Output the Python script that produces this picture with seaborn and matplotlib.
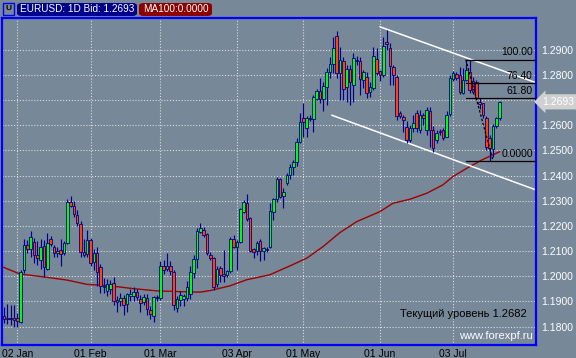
import numpy as np
import pandas as pd
import matplotlib
matplotlib.use("Agg")
import matplotlib.pyplot as plt
import seaborn as sns
from matplotlib.patches import Rectangle, FancyBboxPatch

# ---------------- data ----------------
opens = [1.1842, 1.1830, 1.1834, 1.1836, 1.1833, 1.1820, 1.2024, 1.2124, 1.2110, 1.2135,
         1.2085, 1.2065, 1.2120, 1.2028, 1.2147, 1.2115, 1.2093, 1.2105, 1.2091, 1.2133,
         1.2296, 1.2279, 1.2243, 1.2208, 1.2098, 1.2088, 1.2144, 1.2058, 1.2091, 1.2036,
         1.1962, 1.1942, 1.1950, 1.1975, 1.1907, 1.1903, 1.1913, 1.1889, 1.1920, 1.1920,
         1.1937, 1.1911, 1.1897, 1.1913, 1.1867, 1.1843, 1.1916, 1.1912, 1.2039, 1.2028,
         1.2039, 1.2017, 1.1874, 1.1907, 1.1910, 1.1913, 1.1930, 1.2012, 1.2068, 1.2175,
         1.2184, 1.2167, 1.2085, 1.2072, 1.1969, 1.2032, 1.2008, 1.2006, 1.2021, 1.2148,
         1.2115, 1.2135, 1.2254, 1.2290, 1.2231, 1.2109, 1.2101, 1.2142, 1.2101, 1.2110,
         1.2118, 1.2254, 1.2306, 1.2385, 1.2319, 1.2369, 1.2402, 1.2433, 1.2452, 1.2532,
         1.2628, 1.2588, 1.2628, 1.2625, 1.2704, 1.2736, 1.2703, 1.2751, 1.2810, 1.2843,
         1.2954, 1.2806, 1.2855, 1.2753, 1.2823, 1.2760, 1.2860, 1.2855, 1.2780, 1.2793,
         1.2733, 1.2747, 1.2863, 1.2815, 1.2800, 1.2932, 1.2908, 1.2833, 1.2793, 1.2647,
         1.2634, 1.2594, 1.2542, 1.2588, 1.2647, 1.2581, 1.2640, 1.2581, 1.2657, 1.2581,
         1.2542, 1.2577, 1.2581, 1.2555, 1.2643, 1.2782, 1.2802, 1.2800, 1.2727, 1.2780,
         1.2813, 1.2776, 1.2773, 1.2694, 1.2687, 1.2628, 1.2550, 1.2505, 1.2597, 1.2628]
highs = [1.1878, 1.1890, 1.1886, 1.1886, 1.1854, 1.2025, 1.2148, 1.2144, 1.2181, 1.2152,
         1.2140, 1.2148, 1.2145, 1.2172, 1.2160, 1.2125, 1.2118, 1.2150, 1.2140, 1.2307,
         1.2319, 1.2300, 1.2265, 1.2218, 1.2150, 1.2185, 1.2152, 1.2110, 1.2115, 1.2050,
         1.1993, 1.1990, 1.1985, 1.1999, 1.1920, 1.1935, 1.1926, 1.1933, 1.1950, 1.1956,
         1.1950, 1.1926, 1.1930, 1.1929, 1.1880, 1.1920, 1.1925, 1.2059, 1.2065, 1.2092,
         1.2062, 1.2025, 1.1920, 1.1940, 1.1930, 1.1980, 1.2040, 1.2085, 1.2191, 1.2211,
         1.2197, 1.2171, 1.2098, 1.2078, 1.2039, 1.2039, 1.2105, 1.2025, 1.2158, 1.2164,
         1.2144, 1.2270, 1.2303, 1.2326, 1.2237, 1.2111, 1.2140, 1.2148, 1.2118, 1.2118,
         1.2290, 1.2310, 1.2396, 1.2392, 1.2350, 1.2409, 1.2445, 1.2460, 1.2548, 1.2648,
         1.2687, 1.2637, 1.2640, 1.2720, 1.2745, 1.2786, 1.2773, 1.2828, 1.2872, 1.2952,
         1.2974, 1.2912, 1.2872, 1.2839, 1.2839, 1.2885, 1.2875, 1.2872, 1.2820, 1.2813,
         1.2773, 1.2912, 1.2906, 1.2820, 1.2952, 1.2978, 1.2928, 1.2840, 1.2800, 1.2655,
         1.2640, 1.2615, 1.2600, 1.2641, 1.2660, 1.2660, 1.2650, 1.2674, 1.2674, 1.2595,
         1.2580, 1.2585, 1.2590, 1.2655, 1.2800, 1.2815, 1.2812, 1.2833, 1.2826, 1.2861,
         1.2858, 1.2790, 1.2780, 1.2708, 1.2690, 1.2635, 1.2560, 1.2603, 1.2634, 1.2696]
lows = [1.1815, 1.1812, 1.1805, 1.1800, 1.1800, 1.1815, 1.2015, 1.2092, 1.2078, 1.2053,
        1.2045, 1.2030, 1.1998, 1.2025, 1.2120, 1.2078, 1.2078, 1.2040, 1.2085, 1.2130,
        1.2275, 1.2235, 1.2200, 1.2075, 1.2075, 1.2075, 1.2040, 1.2025, 1.1960, 1.1933,
        1.1933, 1.1920, 1.1930, 1.1885, 1.1860, 1.1880, 1.1847, 1.1860, 1.1900, 1.1900,
        1.1905, 1.1860, 1.1885, 1.1847, 1.1831, 1.1820, 1.1900, 1.1905, 1.2010, 1.2020,
        1.2005, 1.1867, 1.1860, 1.1880, 1.1880, 1.1900, 1.1910, 1.1992, 1.2032, 1.2171,
        1.2158, 1.2085, 1.2065, 1.1946, 1.1959, 1.1979, 1.1979, 1.1999, 1.2012, 1.2111,
        1.2025, 1.2131, 1.2250, 1.2220, 1.2098, 1.2072, 1.2085, 1.2062, 1.2065, 1.2098,
        1.2111, 1.2224, 1.2297, 1.2310, 1.2270, 1.2363, 1.2385, 1.2402, 1.2437, 1.2528,
        1.2555, 1.2555, 1.2615, 1.2575, 1.2700, 1.2688, 1.2658, 1.2680, 1.2786, 1.2806,
        1.2786, 1.2700, 1.2700, 1.2694, 1.2680, 1.2694, 1.2840, 1.2720, 1.2747, 1.2707,
        1.2714, 1.2740, 1.2800, 1.2775, 1.2793, 1.2899, 1.2760, 1.2760, 1.2620, 1.2630,
        1.2573, 1.2528, 1.2535, 1.2575, 1.2575, 1.2570, 1.2600, 1.2562, 1.2515, 1.2495,
        1.2530, 1.2560, 1.2540, 1.2555, 1.2635, 1.2775, 1.2780, 1.2724, 1.2724, 1.2775,
        1.2727, 1.2725, 1.2700, 1.2665, 1.2630, 1.2500, 1.2458, 1.2475, 1.2590, 1.2622]
closes = [1.1829, 1.1835, 1.1832, 1.1826, 1.1821, 1.2018, 1.2124, 1.2107, 1.2155, 1.2085,
          1.2073, 1.2118, 1.2038, 1.2131, 1.2128, 1.2094, 1.2100, 1.2089, 1.2133, 1.2296,
          1.2279, 1.2247, 1.2210, 1.2098, 1.2085, 1.2144, 1.2054, 1.2094, 1.2018, 1.1960,
          1.1957, 1.1969, 1.1969, 1.1903, 1.1897, 1.1913, 1.1884, 1.1929, 1.1929, 1.1937,
          1.1919, 1.1893, 1.1917, 1.1871, 1.1850, 1.1916, 1.1912, 1.2039, 1.2026, 1.2039,
          1.2019, 1.1887, 1.1909, 1.1926, 1.1920, 1.1956, 1.2016, 1.2068, 1.2178, 1.2193,
          1.2164, 1.2094, 1.2074, 1.1959, 1.2029, 1.2006, 1.2003, 1.2021, 1.2148, 1.2118,
          1.2135, 1.2268, 1.2297, 1.2228, 1.2102, 1.2098, 1.2131, 1.2101, 1.2111, 1.2106,
          1.2260, 1.2306, 1.2387, 1.2316, 1.2336, 1.2402, 1.2436, 1.2453, 1.2535, 1.2612,
          1.2612, 1.2628, 1.2625, 1.2711, 1.2736, 1.2704, 1.2756, 1.2810, 1.2843, 1.2905,
          1.2806, 1.2859, 1.2744, 1.2823, 1.2773, 1.2868, 1.2855, 1.2784, 1.2810, 1.2727,
          1.2753, 1.2876, 1.2806, 1.2800, 1.2916, 1.2921, 1.2837, 1.2800, 1.2638, 1.2638,
          1.2621, 1.2542, 1.2588, 1.2610, 1.2588, 1.2641, 1.2630, 1.2661, 1.2581, 1.2509,
          1.2568, 1.2572, 1.2548, 1.2641, 1.2786, 1.2806, 1.2786, 1.2733, 1.2780, 1.2820,
          1.2740, 1.2733, 1.2707, 1.2683, 1.2641, 1.2515, 1.2510, 1.2597, 1.2628, 1.2693]

ma_idx = [-0.2, 4.8, 11.7, 18.9, 24.9, 31.9, 38.8, 46.0, 52.9, 58.9, 61.9, 67.9, 72.9,
          79.9, 85.9, 91.0, 95.9, 101.0, 106.0, 113.0, 116.9, 122.0, 127.1, 131.9, 134.9,
          139.1, 143.6, 146.9, 149.0]
ma_val = [1.2036, 1.2009, 1.1998, 1.1985, 1.1968, 1.1962, 1.1951, 1.1942, 1.1939, 1.1937,
          1.1943, 1.1962, 1.1986, 1.2006, 1.2041, 1.2072, 1.2118, 1.2174, 1.2217, 1.2257,
          1.2290, 1.2306, 1.2330, 1.2363, 1.2396, 1.2429, 1.2462, 1.2482, 1.2495]

tick_idx = [4, 26, 47, 70, 90, 113, 135]
tick_labels = ["02 Jan", "01 Feb", "01 Mar", "03 Apr", "01 May", "01 Jun", "03 Jul"]
price_ticks = [1.18, 1.19, 1.20, 1.21, 1.22, 1.23, 1.24, 1.25, 1.26, 1.27, 1.28, 1.29]

fib_levels = [1.2861, 1.2766, 1.2707, 1.2458]
fib_labels = ["100.00", "76.40", "61.80", "0.0000"]
fib_from = 138.8
fib_trend_x = [138.8, 147.0]
fib_trend_y = [1.2861, 1.2458]

chan_up_x = [113.0, 159.9]
chan_up_y = [1.2991, 1.2769]
chan_lo_x = [98.5, 159.9]
chan_lo_y = [1.2640, 1.2343]

last_bid = 1.2693
header_text = "EURUSD: 1D Bid: 1.2693"
ma_text = "MA100:0.0000"
note_text = "Текущий уровень 1.2682"
site_text = "www.forexpf.ru"

# ---------------- style ----------------
sns.set_style("white")
plt.rcParams["font.family"] = ["Liberation Sans", "DejaVu Sans"]

BG = "#778899"
NAVY = "#00008b"
UP = "#00ff00"
DOWN = "#ff4500"
W, H = 576, 358

df = pd.DataFrame({"open": opens, "high": highs, "low": lows, "close": closes})
df["x"] = np.arange(len(df))
df["up"] = df["close"] >= df["open"]

fig = plt.figure(figsize=(W / 100, H / 100), dpi=100, facecolor=BG)
ax = fig.add_axes([2 / W, 13 / H, 534 / W, 327 / H], facecolor=BG)

ax.set_xlim(-0.6, 159.9)
ax.set_ylim(1.1727, 1.3026)

# grid
ax.set_yticks(price_ticks)
ax.set_xticks(tick_idx)
ax.set_axisbelow(True)
ax.grid(True, color="#dcdcdc", linestyle=(0, (1, 1.6)), linewidth=0.8)

# MA line
sns.lineplot(x=ma_idx, y=ma_val, ax=ax, color="#a00000", linewidth=1.0, zorder=2,
             estimator=None, sort=False)

# channel lines
ax.plot(chan_up_x, chan_up_y, color="white", lw=1.1, zorder=2.5)
ax.plot(chan_lo_x, chan_lo_y, color="white", lw=1.1, zorder=2.5)

# candles
ax.vlines(df["x"], df["low"], df["high"], color=NAVY, lw=0.85, zorder=3)
bottom = np.minimum(df["open"], df["close"])
height = np.abs(df["close"] - df["open"])
height = np.maximum(height, 0.00005)
ax.bar(df["x"], height, bottom=bottom, width=0.78,
       color=np.where(df["up"], UP, DOWN), edgecolor=NAVY, linewidth=0.6, zorder=4)

# Fibonacci
for lv, lb in zip(fib_levels, fib_labels):
    ax.plot([fib_from, 159.9], [lv, lv], color="black", lw=0.9, zorder=5)
    ax.annotate(lb, xy=(0.994, lv), xycoords=ax.get_yaxis_transform(),
                xytext=(0, 1.5), textcoords="offset points", ha="right", va="bottom",
                fontsize=7.5, color="black", zorder=6)
ax.plot(fib_trend_x, fib_trend_y, color="black", lw=0.9, linestyle=(0, (2, 1.5)), zorder=5)

# axes styling
for s in ax.spines.values():
    s.set_color("#0000ff")
    s.set_linewidth(1.6)
ax.yaxis.tick_right()
ax.set_yticklabels(["" if abs(v - 1.27) < 1e-9 else f"{v:.4f}" for v in price_ticks])
ax.set_xticklabels(tick_labels)
ax.tick_params(axis="y", length=0, pad=4, labelsize=7.5, labelcolor="white")
ax.tick_params(axis="x", length=0, pad=3, labelsize=7.5, labelcolor="black")
ax.set_xlabel("")
ax.set_ylabel("")

# current price tag
ax.text(1.012, last_bid, f"{last_bid:.4f}", transform=ax.get_yaxis_transform(),
        ha="left", va="center", fontsize=7.5, color="white", zorder=10, clip_on=False,
        bbox=dict(boxstyle="larrow,pad=0.25", fc="#d0d0d0", ec="none"))

# texts in plot
ax.text(0.983, 0.095, note_text, transform=ax.transAxes, ha="right", va="center",
        fontsize=8, color="black", zorder=6)
ax.text(0.994, 0.028, site_text, transform=ax.transAxes, ha="right", va="center",
        fontsize=8, color="white", zorder=6)

# header
def fig_box(x0, y0, x1, y1, fc):
    p = FancyBboxPatch((x0 / W, 1 - y1 / H), (x1 - x0) / W, (y1 - y0) / H,
                       boxstyle="round,pad=0,rounding_size=0.008",
                       transform=fig.transFigure, fc=fc, ec="none")
    fig.patches.append(p)

fig_box(17, 3, 137, 16, "#00008b")
fig_box(139, 3, 212, 16, "#8b0000")
fig.text(77 / W, 1 - 9.5 / H, header_text, ha="center", va="center", fontsize=7.2, color="white")
fig.text(175.5 / W, 1 - 9.5 / H, ma_text, ha="center", va="center", fontsize=7.2, color="white")
fig.patches.append(Rectangle((3 / W, 1 - 15 / H), 11 / W, 12 / H, transform=fig.transFigure,
                             fc=BG, ec="#0000ff", lw=1.0))
fig.text(8.5 / W, 1 - 9 / H, "U", ha="center", va="center", fontsize=6, color="black",
         fontweight="bold")

fig.savefig("out.png", dpi=100, facecolor=BG)
